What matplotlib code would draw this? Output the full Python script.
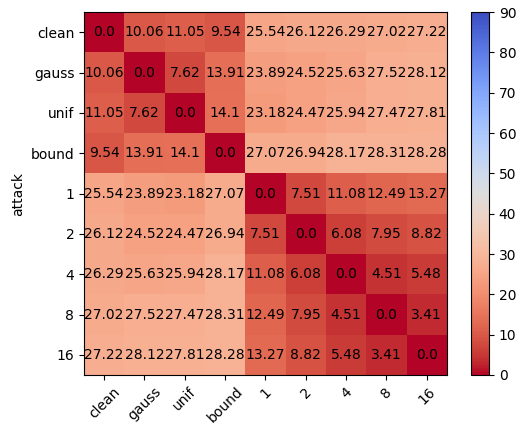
import matplotlib
matplotlib.use("Agg")
import matplotlib.pyplot as plt
import numpy as np

labels = ["clean", "gauss", "unif", "bound", "1", "2", "4", "8", "16"]

row_clean = [0.0, 10.06, 11.05, 9.54, 25.54, 26.12, 26.29, 27.02, 27.22]
row_gauss = [10.06, 0.0, 7.62, 13.91, 23.89, 24.52, 25.63, 27.52, 28.12]
row_unif = [11.05, 7.62, 0.0, 14.1, 23.18, 24.47, 25.94, 27.47, 27.81]
row_bound = [9.54, 13.91, 14.1, 0.0, 27.07, 26.94, 28.17, 28.31, 28.28]
row_1 = [25.54, 23.89, 23.18, 27.07, 0.0, 7.51, 11.08, 12.49, 13.27]
row_2 = [26.12, 24.52, 24.47, 26.94, 7.51, 0.0, 6.08, 7.95, 8.82]
row_4 = [26.29, 25.63, 25.94, 28.17, 11.08, 6.08, 0.0, 4.51, 5.48]
row_8 = [27.02, 27.52, 27.47, 28.31, 12.49, 7.95, 4.51, 0.0, 3.41]
row_16 = [27.22, 28.12, 27.81, 28.28, 13.27, 8.82, 5.48, 3.41, 0.0]

rows = [row_clean, row_gauss, row_unif, row_bound, row_1, row_2, row_4, row_8, row_16]
data = np.array(rows)

fig = plt.figure(figsize=(5.23, 4.23), dpi=100)
ax = fig.add_axes([0.1606, 0.1135, 0.694, 0.858])
cax = fig.add_axes([0.9006, 0.1135, 0.0344, 0.858])

im = ax.imshow(data, cmap="coolwarm_r", vmin=0, vmax=90, aspect="auto")
ax.set_xticks(range(len(labels)))
ax.set_yticks(range(len(labels)))
ax.set_xticklabels(labels, rotation=45)
ax.set_yticklabels(labels)
ax.set_ylabel("attack")

for i, row in enumerate(rows):
    for j, v in enumerate(row):
        ax.text(j, i, str(v), ha="center", va="center", color="black", fontsize=10)

cb = fig.colorbar(im, cax=cax)
cb.set_ticks(np.arange(0, 91, 10))

fig.savefig("out.png", dpi=100)
